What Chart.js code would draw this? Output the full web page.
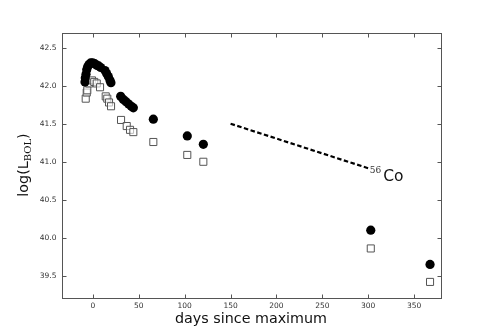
<!DOCTYPE html>
<html>
<head>
<meta charset="utf-8">
<script src="https://cdn.jsdelivr.net/npm/chart.js@4"></script>
<style>
  html, body { margin: 0; padding: 0; background: #fff; }
  canvas { display: block; }
</style>
</head>
<body>
<canvas id="c" width="490" height="332"></canvas>
<script>
// Filled circles: bolometric light curve (days since maximum, log L)
const circleDays = [-8.7, -8.4, -7.6, -6.8, -5.8, -4.3, -2.5, -0.3, 1.9, 4.1, 6.2, 8.4,
                    13.1, 14.9, 16.7, 18.6, 19.6,
                    30.2, 33.1, 36.0, 38.9, 41.8, 44.0,
                    65.8, 102.8, 120.3, 302.8, 367.4];
const circleLogL = [42.05, 42.10, 42.15, 42.21, 42.25, 42.28, 42.30, 42.30, 42.29, 42.27, 42.26, 42.24,
                    42.20, 42.16, 42.12, 42.07, 42.04,
                    41.86, 41.82, 41.79, 41.76, 41.73, 41.71,
                    41.56, 41.34, 41.23, 40.10, 39.65];
// Open squares: second light curve
const squareDays = [-7.9, -6.8, -6.2, -4.0, -1.1, 1.4, 4.1, 7.7,
                    13.9, 15.6, 17.5, 19.7,
                    30.6, 36.8, 40.4, 44.0,
                    65.8, 102.8, 120.3, 302.8, 367.4];
const squareLogL = [41.83, 41.91, 41.94, 42.03, 42.07, 42.05, 42.03, 41.98,
                    41.86, 41.83, 41.78, 41.73,
                    41.55, 41.47, 41.42, 41.39,
                    41.26, 41.09, 41.00, 39.86, 39.42];
// 56Co decay slope line
const coDays = [150, 300];
const coLogL = [41.50, 40.915];

const xTicks = [0, 50, 100, 150, 200, 250, 300, 350];
const yTicks = [39.5, 40.0, 40.5, 41.0, 41.5, 42.0, 42.5];
const xLimits = [-34.3, 378.8];
const yLimits = [39.215, 42.70];

const xAxisTitle = 'days since maximum';
const yAxisTitleMain = 'log(L';
const yAxisTitleSub = 'BOL';
const yAxisTitleEnd = ')';
const coLabelSup = '56';
const coLabelMain = 'Co';

function pts(xs, ys) { return xs.map((x, i) => ({ x: x, y: ys[i] })); }

const frame = {
  id: 'frame',
  afterDraw(chart) {
    const ctx = chart.ctx;
    const a = chart.chartArea;
    const xs = chart.scales.x, ys = chart.scales.y;
    ctx.save();
    ctx.strokeStyle = '#555';
    ctx.lineWidth = 1;
    const L = Math.round(a.left) + 0.5, R = Math.round(a.right) + 0.5;
    const T = Math.round(a.top) + 0.5, B = Math.round(a.bottom) + 0.5;
    ctx.strokeRect(L, T, R - L, B - T);
    ctx.beginPath();
    const tl = 4;
    xTicks.forEach(v => {
      const px = Math.round(xs.getPixelForValue(v)) + 0.5;
      ctx.moveTo(px, B); ctx.lineTo(px, B - tl);
      ctx.moveTo(px, T); ctx.lineTo(px, T + tl);
    });
    yTicks.forEach(v => {
      const py = Math.round(ys.getPixelForValue(v)) + 0.5;
      ctx.moveTo(L, py); ctx.lineTo(L + tl, py);
      ctx.moveTo(R, py); ctx.lineTo(R - tl, py);
    });
    ctx.stroke();

    // Axis titles
    ctx.fillStyle = '#111';
    ctx.font = "14.3px 'DejaVu Sans'";
    ctx.textAlign = 'center';
    ctx.textBaseline = 'alphabetic';
    ctx.fillText(xAxisTitle, (a.left + a.right) / 2, 322.5);

    // Y title rotated
    ctx.save();
    ctx.translate(27.5, (a.top + a.bottom) / 2);
    ctx.rotate(-Math.PI / 2);
    const fMain = "14.3px 'DejaVu Sans'";
    const fSub = "10px 'DejaVu Serif'";
    ctx.font = fMain;
    const w1 = ctx.measureText(yAxisTitleMain).width;
    const w3 = ctx.measureText(yAxisTitleEnd).width;
    ctx.font = fSub;
    const w2 = ctx.measureText(yAxisTitleSub).width;
    const total = w1 + w2 + w3;
    let x0 = -total / 2;
    ctx.textAlign = 'left';
    ctx.font = fMain;
    ctx.fillText(yAxisTitleMain, x0, 0);
    ctx.font = fSub;
    ctx.fillText(yAxisTitleSub, x0 + w1, 3.5);
    ctx.font = fMain;
    ctx.fillText(yAxisTitleEnd, x0 + w1 + w2, 0);
    ctx.restore();

    // 56Co label, anchored at the end of the dashed line
    const ex = xs.getPixelForValue(coDays[1]);
    const ey = ys.getPixelForValue(coLogL[1]);
    ctx.textAlign = 'left';
    ctx.font = "9px 'DejaVu Serif'";
    ctx.fillStyle = '#333';
    ctx.fillText(coLabelSup, ex + 1.5, ey + 5);
    ctx.font = "15.5px 'DejaVu Sans'";
    ctx.fillStyle = '#111';
    ctx.fillText(coLabelMain, ex + 15, ey + 13);
    ctx.restore();
  }
};

new Chart(document.getElementById('c'), {
  type: 'scatter',
  data: {
    datasets: [
      {
        label: 'circles',
        data: pts(circleDays, circleLogL),
        pointStyle: 'circle',
        pointRadius: 4.6,
        pointHoverRadius: 4.6,
        backgroundColor: '#000',
        borderColor: '#000',
        borderWidth: 0,
        showLine: false
      },
      {
        label: 'squares',
        data: pts(squareDays, squareLogL),
        pointStyle: 'rect',
        pointRadius: 5,
        pointHoverRadius: 5,
        backgroundColor: 'rgba(255,255,255,0.6)',
        borderColor: '#555',
        borderWidth: 1,
        showLine: false
      },
      {
        label: 'co',
        data: pts(coDays, coLogL),
        showLine: true,
        borderColor: '#000',
        borderWidth: 2.2,
        borderDash: [4.5, 2.5],
        pointRadius: 0,
        pointHoverRadius: 0,
        fill: false
      }
    ]
  },
  options: {
    responsive: false,
    animation: false,
    devicePixelRatio: 1,
    events: [],
    layout: { padding: { left: 0, top: 32.5, right: 49.5, bottom: 0 } },
    plugins: { legend: { display: false }, tooltip: { enabled: false } },
    scales: {
      x: {
        type: 'linear',
        min: xLimits[0],
        max: xLimits[1],
        afterBuildTicks: s => { s.ticks = xTicks.map(v => ({ value: v })); },
        afterFit: s => { s.height = 34.5; },
        grid: { display: false, drawTicks: false },
        border: { display: false },
        ticks: {
          padding: 4,
          color: '#333',
          font: { family: 'DejaVu Sans', size: 7.5 },
          maxRotation: 0,
          autoSkip: false,
          callback: v => String(v)
        }
      },
      y: {
        type: 'linear',
        min: yLimits[0],
        max: yLimits[1],
        afterBuildTicks: s => { s.ticks = yTicks.map(v => ({ value: v })); },
        afterFit: s => { s.width = 61.5; },
        grid: { display: false, drawTicks: false },
        border: { display: false },
        ticks: {
          padding: 5,
          color: '#333',
          font: { family: 'DejaVu Sans', size: 7.5 },
          autoSkip: false,
          callback: v => Number(v).toFixed(1)
        }
      }
    }
  },
  plugins: [frame]
});
</script>
</body>
</html>
